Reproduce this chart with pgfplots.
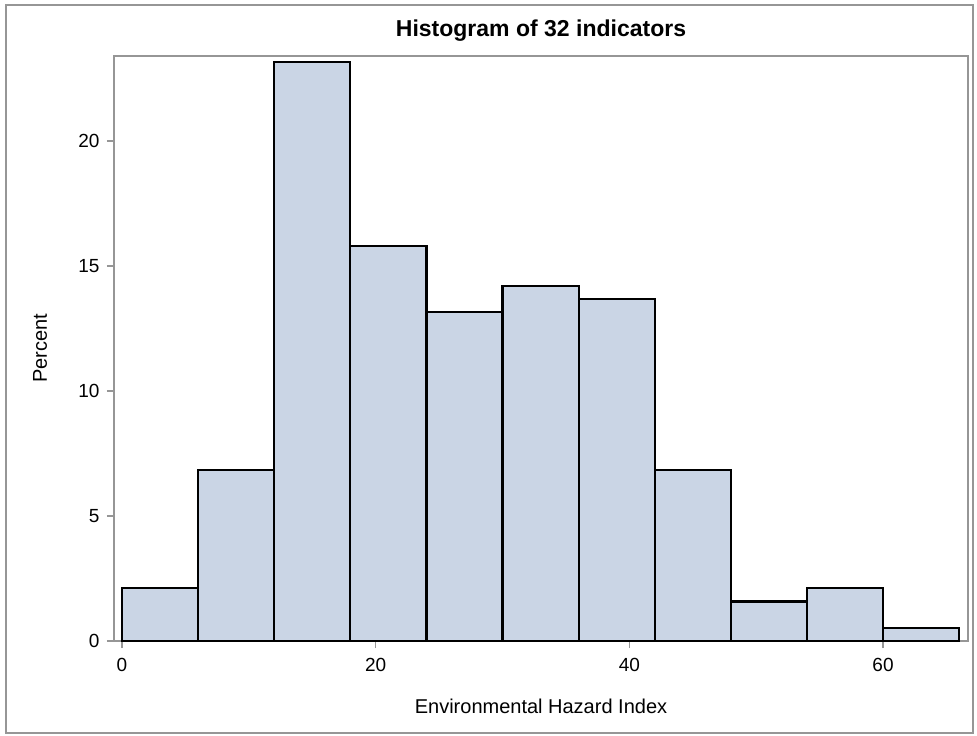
\documentclass[border=0pt]{standalone}
\usepackage{fontspec}
\setmainfont{Liberation Sans}
\usepackage{pgfplots}
\pgfplotsset{compat=1.18}
\definecolor{barfill}{RGB}{202,213,229}
\definecolor{framegray}{RGB}{150,150,150}
\begin{document}
\begin{tikzpicture}[x=1pt,y=1pt]
\useasboundingbox (-114,-95) rectangle (863,641);
\draw[framegray, line width=2pt] (-108,-92) rectangle (859,636);
\begin{axis}[
  at={(0,0)}, anchor=south west,
  scale only axis, width=854pt, height=585pt,
  xmin=-0.63, xmax=66.7, ymin=0, ymax=23.4,
  axis line style={framegray, line width=1.5pt},
  xtick={0,20,40,60}, ytick={0,5,10,15,20},
  tick align=outside, tick pos=left,
  major tick length=7pt,
  tick style={framegray, line width=1.2pt},
  /pgf/number format/assume math mode=true,
  ticklabel style={font=\fontsize{19}{22}\selectfont},
  xticklabel style={yshift=-7pt},
  yticklabel style={xshift=-4pt},
  xlabel={Environmental Hazard Index},
  ylabel={Percent},
  label style={font=\fontsize{20}{24}\selectfont},
  xlabel style={at={(axis description cs:0.5,0)}, anchor=base, yshift=-72pt},
  ylabel style={at={(axis description cs:0,0.5)}, anchor=center, yshift=74pt},
  title={\textbf{Histogram of 32 indicators}},
  title style={font=\fontsize{23}{27}\selectfont, at={(axis description cs:0.5,1)}, anchor=base, yshift=13pt},
]
\addplot[ybar interval, fill=barfill, draw=black, line width=2.2pt] coordinates {
  (0,2.105) (6,6.842) (12,23.158) (18,15.789) (24,13.158) (30,14.211)
  (36,13.684) (42,6.842) (48,1.579) (54,2.105) (60,0.526) (66,0.526)
};
\end{axis}
\end{tikzpicture}
\end{document}
